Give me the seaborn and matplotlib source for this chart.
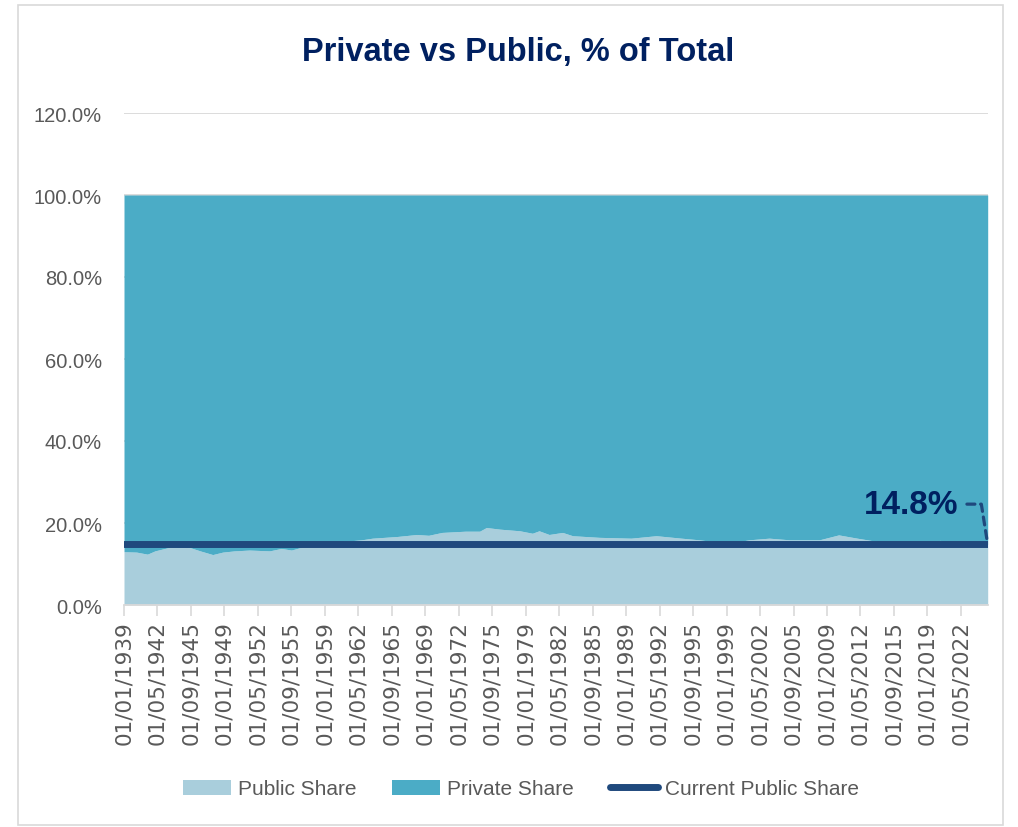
import matplotlib
matplotlib.use("Agg")
import matplotlib.pyplot as plt
import matplotlib.font_manager as fm
import matplotlib.dates as mdates
import matplotlib.ticker as mticker
from matplotlib.lines import Line2D
from matplotlib.patches import Rectangle
import numpy as np
import pandas as pd
import seaborn as sns

# Public share of the total (%), monthly series sampled at its turning points
obs_dates = ["1939-01", "1940-04", "1941-05", "1942-02", "1943-08", "1945-08",
             "1946-08", "1947-11", "1948-11", "1950-01", "1951-07", "1953-07",
             "1954-09", "1955-09", "1957-01", "1959-01", "1960-10", "1962-09",
             "1963-10", "1966-03", "1968-03", "1969-05", "1970-09", "1973-01",
             "1974-06", "1975-02", "1976-06", "1978-06", "1979-09", "1980-05",
             "1981-05", "1982-09", "1983-09", "1986-05", "1989-07", "1992-01",
             "1994-07", "1996-04", "1998-01", "2000-01", "2001-04", "2003-04",
             "2005-04", "2008-04", "2010-03", "2012-01", "2014-01", "2016-03",
             "2018-03", "2020-02", "2020-04", "2020-07", "2022-03", "2023-09",
             "2025-01"]
public_share = [13.0, 12.9, 12.4, 13.2, 14.1, 14.0,
                13.2, 12.3, 12.9, 13.2, 13.4, 13.2,
                13.8, 13.4, 14.3, 15.0, 15.5, 15.9,
                16.3, 16.7, 17.2, 17.0, 17.7, 18.0,
                18.0, 18.9, 18.5, 18.1, 17.5, 18.1,
                17.2, 17.7, 16.9, 16.5, 16.3, 16.9,
                16.3, 15.9, 15.4, 15.4, 15.9, 16.3,
                15.9, 15.9, 17.1, 16.3, 15.5, 15.0,
                14.9, 15.0, 15.8, 15.1, 15.0, 14.9,
                14.8]
current_public_share = 14.8

tick_labels = ["01/01/1939", "01/05/1942", "01/09/1945", "01/01/1949", "01/05/1952",
               "01/09/1955", "01/01/1959", "01/05/1962", "01/09/1965", "01/01/1969",
               "01/05/1972", "01/09/1975", "01/01/1979", "01/05/1982", "01/09/1985",
               "01/01/1989", "01/05/1992", "01/09/1995", "01/01/1999", "01/05/2002",
               "01/09/2005", "01/01/2009", "01/05/2012", "01/09/2015", "01/01/2019",
               "01/05/2022"]
y_ticks = [0, 20, 40, 60, 80, 100, 120]

PUBLIC_C = "#A9CEDC"
PRIVATE_C = "#4BACC6"
LINE_C = "#1F497D"
TITLE_C = "#002060"
GRAY = "#595959"
LIGHT = "#D9D9D9"

dates = pd.to_datetime(obs_dates)
public = np.array(public_share)
private = 100.0 - public

sns.set_theme(style="white")
available = {f.name for f in fm.fontManager.ttflist}
base_font = "Liberation Sans Narrow" if "Liberation Sans Narrow" in available else "Liberation Sans"
plt.rcParams["font.family"] = [base_font, "DejaVu Sans"]

W, H = 1018, 828
fig = plt.figure(figsize=(W / 100, H / 100), dpi=100)
ax = fig.add_axes([124 / W, 1 - 606 / H, (987.7 - 124) / W, (606 - 114) / H])

polys = ax.stackplot(dates, public, private, colors=[PUBLIC_C, PRIVATE_C],
                     labels=["Public Share", "Private Share"], linewidth=0, zorder=2)

line_df = pd.DataFrame({"date": [dates[0], dates[-1]],
                        "share": [current_public_share, current_public_share]})
sns.lineplot(data=line_df, x="date", y="share", color=LINE_C, linewidth=5,
             ax=ax, zorder=3, legend=False)

ax.set_xlim(dates[0], dates[-1])
ax.set_ylim(0, 120)
ax.set_yticks(y_ticks)
ax.yaxis.set_major_formatter(mticker.FuncFormatter(lambda v, _: f"{v:.1f}%"))
ax.grid(axis="y", color=LIGHT, linewidth=1.3)
ax.grid(axis="x", visible=False)
ax.set_axisbelow(True)
for side in ["top", "left", "right"]:
    ax.spines[side].set_visible(False)
ax.spines["bottom"].set_color(LIGHT)
ax.spines["bottom"].set_linewidth(1.3)

tick_dates = pd.to_datetime(tick_labels, format="%d/%m/%Y")
ax.set_xticks(tick_dates)
ax.set_xticklabels(tick_labels, rotation=90, fontsize=15.5, color=GRAY,
                   family=["DejaVu Sans"])
ax.tick_params(axis="x", bottom=True, length=8, width=1.2, color=LIGHT, pad=3)
ax.tick_params(axis="y", left=False, length=0, pad=16, labelsize=14.5, labelcolor=GRAY)
ax.set_xlabel("")
ax.set_ylabel("")

ax.annotate(f"{current_public_share:.1f}%",
            xy=(mdates.date2num(dates[-1]), current_public_share),
            xytext=(0.911, 0.205), textcoords="axes fraction",
            ha="center", va="center", fontsize=24, fontweight="bold", color=TITLE_C,
            arrowprops=dict(arrowstyle="-", linestyle=(0, (2.5, 1.8)), linewidth=2.3,
                            color=LINE_C, shrinkA=4, shrinkB=2,
                            connectionstyle="angle,angleA=0,angleB=99,rad=0"),
            zorder=5)

fig.text(518 / W, 1 - 53 / H, "Private vs Public, % of Total", ha="center", va="center",
         fontsize=23.5, fontweight="bold", color=TITLE_C)

handles = [polys[0], polys[1],
           Line2D([0], [0], color=LINE_C, linewidth=5, solid_capstyle="round")]
labels = ["Public Share", "Private Share", "Current Public Share"]
fig.legend(handles, labels, loc="center", bbox_to_anchor=(521 / W, 1 - 790 / H),
           ncol=3, frameon=False, fontsize=15, handlelength=2.3, handletextpad=0.35,
           columnspacing=1.7, labelcolor=GRAY)

fig.patches.append(Rectangle((18 / W, 1 - 826 / H), (1003 - 18) / W, (826 - 6) / H,
                             transform=fig.transFigure, fill=False,
                             edgecolor=LIGHT, linewidth=1.2))

fig.savefig("out.png", dpi=100)
